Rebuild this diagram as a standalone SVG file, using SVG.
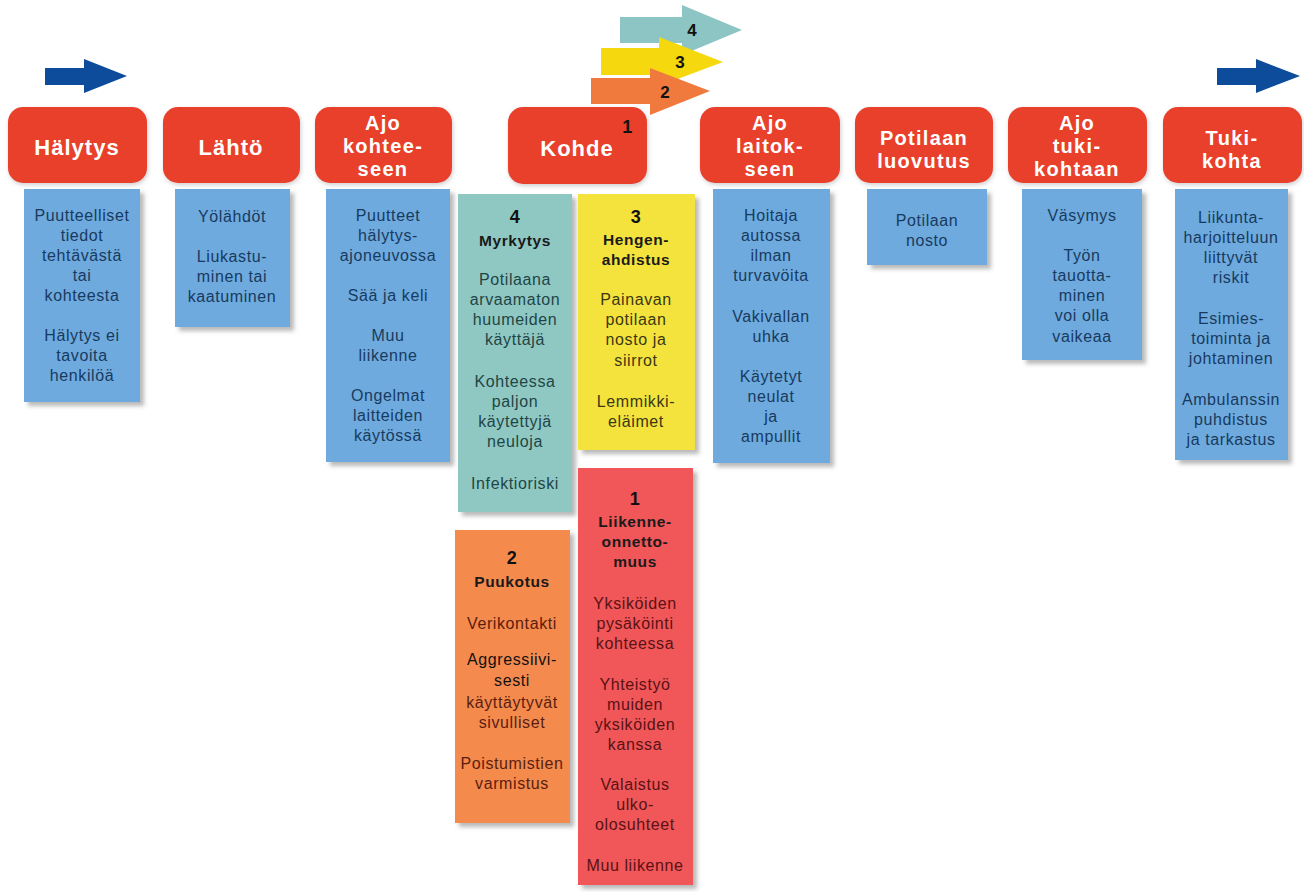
<svg xmlns="http://www.w3.org/2000/svg" width="1304" height="892" viewBox="0 0 1304 892">
<defs>
<filter id="sh" x="-10%" y="-10%" width="130%" height="130%">
<feDropShadow dx="4" dy="4" stdDeviation="2" flood-color="#666" flood-opacity="0.45"/>
</filter>
<filter id="hs" x="-10%" y="-10%" width="130%" height="130%">
<feDropShadow dx="1" dy="2" stdDeviation="2" flood-color="#888" flood-opacity="0.4"/>
</filter>
<style>
text{font-family:"Liberation Sans",Arial,sans-serif;text-anchor:middle}
.hdr rect{fill:#e8402b;filter:url(#hs)}
.hdr text{fill:#fff;font-weight:bold;font-size:20px;letter-spacing:1.3px}
.hdr text.big{font-size:22px;letter-spacing:1px}
.box rect{filter:url(#sh)}
.box text{font-size:16px;letter-spacing:0.6px}
.blue rect{fill:#6eaadd}
.blue text{fill:#183a60}
.teal rect{fill:#8fc8c3}
.teal text{fill:#1f4545}
.yel rect{fill:#f5e33c}
.yel text{fill:#3a3812}
.red rect{fill:#f15659}
.red text{fill:#5a1214}
.org rect{fill:#f58a4e}
.org text{fill:#5a1e10}
.box text.num{font-weight:bold;font-size:18px;fill:#111}
.box text.ttl{font-weight:bold;font-size:15.5px;fill:#1a1a1a}
.lbl{font-weight:bold;font-size:17px;fill:#111}
</style>
</defs>
<rect width="1304" height="892" fill="#fff"/>

<g id="arrows">
<polygon points="45,68 84,68 84,59 127,76 84,93 84,85 45,85" fill="#0d4b9b"/>
<polygon points="1217,68 1256,68 1256,59 1300,76 1256,93 1256,85 1217,85" fill="#0d4b9b"/>
<polygon points="620,17 682,17 682,5 742,30 682,55 682,43 620,43" fill="#8dc5c4"/>
<text class="lbl" x="692" y="36">4</text>
<polygon points="601,48 659,48 659,37 723,62 659,86 659,75 601,75" fill="#f6d80e"/>
<text class="lbl" x="680" y="68">3</text>
<polygon points="591,78 650,78 650,68 710,91 650,115 650,104 591,104" fill="#f07a3e"/>
<text class="lbl" x="665" y="98">2</text>
</g>

<g id="connectors"></g>

<g id="col1" class="box blue">
<rect x="24" y="189" width="116" height="213"/>
<text x="82" y="221">Puutteelliset</text>
<text x="82" y="241">tiedot</text>
<text x="82" y="261">tehtävästä</text>
<text x="82" y="281">tai</text>
<text x="82" y="301">kohteesta</text>
<text x="82" y="341">Hälytys ei</text>
<text x="82" y="361">tavoita</text>
<text x="82" y="381">henkilöä</text>
</g>
<g id="col2" class="box blue">
<rect x="175" y="189" width="115" height="138"/>
<text x="232" y="222">Yölähdöt</text>
<text x="232" y="262">Liukastu-</text>
<text x="232" y="282">minen tai</text>
<text x="232" y="302">kaatuminen</text>
</g>
<g id="col3" class="box blue">
<rect x="326" y="189" width="124" height="273"/>
<text x="388" y="221">Puutteet</text>
<text x="388" y="241">hälytys-</text>
<text x="388" y="261">ajoneuvossa</text>
<text x="388" y="301">Sää ja keli</text>
<text x="388" y="341">Muu</text>
<text x="388" y="361">liikenne</text>
<text x="388" y="401">Ongelmat</text>
<text x="388" y="421">laitteiden</text>
<text x="388" y="441">käytössä</text>
</g>
<g id="col4" class="box teal">
<rect x="458" y="194" width="114" height="318"/>
<text class="num" x="515" y="223">4</text>
<text class="ttl" x="515" y="246">Myrkytys</text>
<text x="515" y="285">Potilaana</text>
<text x="515" y="305">arvaamaton</text>
<text x="515" y="325">huumeiden</text>
<text x="515" y="345">käyttäjä</text>
<text x="515" y="387">Kohteessa</text>
<text x="515" y="407">paljon</text>
<text x="515" y="427">käytettyjä</text>
<text x="515" y="447">neuloja</text>
<text x="515" y="489">Infektioriski</text>
</g>
<g id="col3b" class="box yel">
<rect x="578" y="194" width="117" height="256"/>
<text class="num" x="636" y="223">3</text>
<text class="ttl" x="636" y="245">Hengen-</text>
<text class="ttl" x="636" y="265">ahdistus</text>
<text x="636" y="305">Painavan</text>
<text x="636" y="325">potilaan</text>
<text x="636" y="345">nosto ja</text>
<text x="636" y="366">siirrot</text>
<text x="636" y="407">Lemmikki-</text>
<text x="636" y="427">eläimet</text>
</g>
<g id="col1b" class="box red">
<rect x="578" y="468" width="115" height="417"/>
<text class="num" x="635" y="505">1</text>
<text class="ttl" x="635" y="527">Liikenne-</text>
<text class="ttl" x="635" y="547">onnetto-</text>
<text class="ttl" x="635" y="567">muus</text>
<text x="635" y="609">Yksiköiden</text>
<text x="635" y="629">pysäköinti</text>
<text x="635" y="649">kohteessa</text>
<text x="635" y="690">Yhteistyö</text>
<text x="635" y="710">muiden</text>
<text x="635" y="730">yksiköiden</text>
<text x="635" y="750">kanssa</text>
<text x="635" y="790">Valaistus</text>
<text x="635" y="810">ulko-</text>
<text x="635" y="830">olosuhteet</text>
<text x="635" y="871">Muu liikenne</text>
</g>
<g id="col2b" class="box org">
<rect x="455" y="530" width="115" height="293"/>
<text class="num" x="512" y="564">2</text>
<text class="ttl" x="512" y="587">Puukotus</text>
<text x="512" y="629">Verikontakti</text>
<rect x="457" y="643" width="109" height="52" fill="#f8a35b" style="filter:none"/>
<text x="512" y="665" style="fill:#111">Aggressiivi-</text>
<text x="512" y="686" style="fill:#111">sesti</text>
<text x="512" y="708">käyttäytyvät</text>
<text x="512" y="728">sivulliset</text>
<text x="512" y="769">Poistumistien</text>
<text x="512" y="789">varmistus</text>
</g>
<g id="col5" class="box blue">
<rect x="713" y="189" width="117" height="274"/>
<text x="771" y="221">Hoitaja</text>
<text x="771" y="241">autossa</text>
<text x="771" y="261">ilman</text>
<text x="771" y="281">turvavöita</text>
<text x="771" y="322">Vakivallan</text>
<text x="771" y="342">uhka</text>
<text x="771" y="382">Käytetyt</text>
<text x="771" y="402">neulat</text>
<text x="771" y="422">ja</text>
<text x="771" y="442">ampullit</text>
</g>
<g id="col6" class="box blue">
<rect x="867" y="189" width="120" height="76"/>
<text x="927" y="226">Potilaan</text>
<text x="927" y="246">nosto</text>
</g>
<g id="col7" class="box blue">
<rect x="1022" y="189" width="120" height="171"/>
<text x="1082" y="221">Väsymys</text>
<text x="1082" y="261">Työn</text>
<text x="1082" y="281">tauotta-</text>
<text x="1082" y="301">minen</text>
<text x="1082" y="321">voi olla</text>
<text x="1082" y="342">vaikeaa</text>
</g>
<g id="col8" class="box blue">
<rect x="1175" y="189" width="113" height="271"/>
<text x="1231" y="223">Liikunta-</text>
<text x="1231" y="243">harjoitteluun</text>
<text x="1231" y="263">liittyvät</text>
<text x="1231" y="283">riskit</text>
<text x="1231" y="324">Esimies-</text>
<text x="1231" y="344">toiminta ja</text>
<text x="1231" y="364">johtaminen</text>
<text x="1231" y="405">Ambulanssin</text>
<text x="1231" y="425">puhdistus</text>
<text x="1231" y="445">ja tarkastus</text>
</g>

<g id="h1" class="hdr"><rect x="8" y="107" width="139" height="76" rx="15"/><text class="big" x="77" y="155">Hälytys</text></g>
<g id="h2" class="hdr"><rect x="163" y="107" width="137" height="76" rx="15"/><text class="big" x="231" y="155">Lähtö</text></g>
<g id="h3" class="hdr"><rect x="315" y="107" width="137" height="76" rx="15"/><text x="383" y="130">Ajo</text><text x="383" y="153">kohtee-</text><text x="383" y="176">seen</text></g>
<g id="h4" class="hdr"><rect x="508" y="107" width="139" height="77" rx="15"/><text class="big" x="577" y="156">Kohde</text><text x="628" y="133" style="fill:#111;font-size:18px">1</text></g>
<g id="h5" class="hdr"><rect x="700" y="107" width="140" height="76" rx="15"/><text x="770" y="130">Ajo</text><text x="770" y="153">laitok-</text><text x="770" y="176">seen</text></g>
<g id="h6" class="hdr"><rect x="855" y="107" width="138" height="76" rx="15"/><text x="924" y="145">Potilaan</text><text x="924" y="168">luovutus</text></g>
<g id="h7" class="hdr"><rect x="1008" y="107" width="139" height="76" rx="15"/><text x="1077" y="130">Ajo</text><text x="1077" y="153">tuki-</text><text x="1077" y="176">kohtaan</text></g>
<g id="h8" class="hdr"><rect x="1163" y="107" width="139" height="76" rx="15"/><text x="1232" y="145">Tuki-</text><text x="1232" y="168">kohta</text></g>
</svg>
